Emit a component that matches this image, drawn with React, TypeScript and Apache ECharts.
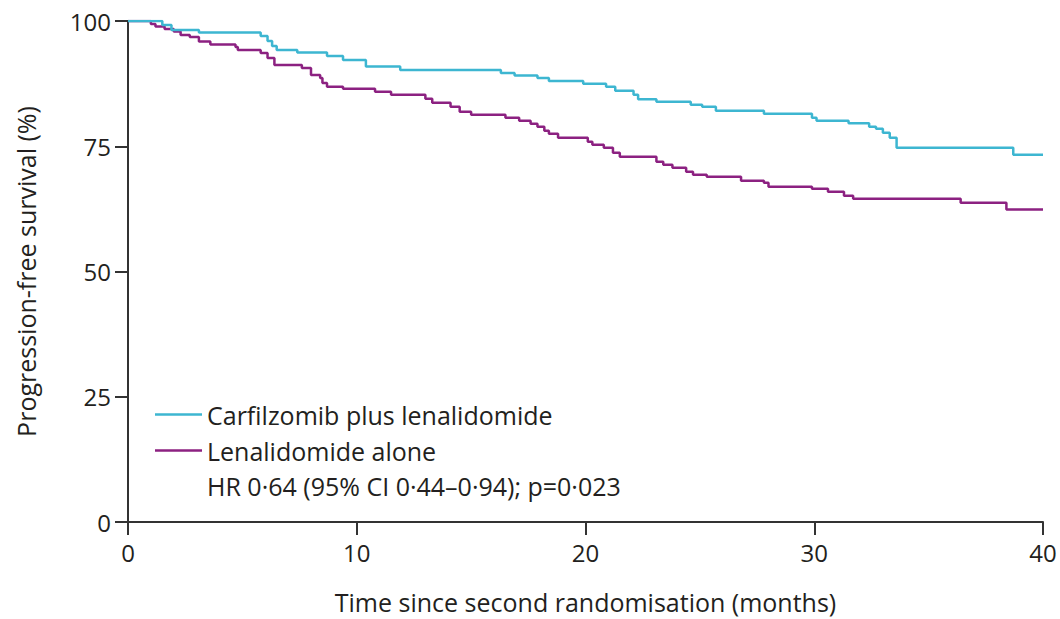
import React, { useEffect, useRef } from "react";
import * as echarts from "echarts";

const carfilzomibTimes = [0, 1.5, 1.9, 3.1, 5.8, 6.1, 6.3, 6.5, 7.4, 8.7, 9.4, 10.4, 11.9, 16.3, 16.9, 17.9, 18.4, 19.9, 20.9, 21.3, 22.1, 22.3, 23.1, 24.6, 25.1, 25.7, 27.8, 29.9, 30.1, 31.5, 32.4, 32.7, 33.0, 33.3, 33.6, 38.7, 40];
const carfilzomibSurvival = [100, 99.2, 98.2, 97.7, 97.0, 96.0, 95.0, 94.2, 93.7, 93.0, 92.2, 90.9, 90.2, 89.6, 89.1, 88.6, 88.0, 87.5, 86.9, 86.1, 85.3, 84.4, 83.9, 83.3, 82.9, 82.1, 81.5, 80.7, 80.1, 79.6, 78.9, 78.5, 77.7, 76.7, 74.7, 73.3, 73.3];

const lenalidomideTimes = [0, 1.0, 1.2, 1.6, 2.0, 2.3, 2.7, 3.1, 3.6, 4.7, 4.8, 5.8, 6.1, 6.4, 7.6, 8.0, 8.4, 8.5, 8.7, 9.4, 10.8, 11.5, 13.0, 13.3, 14.1, 14.5, 15.0, 16.5, 17.1, 17.6, 17.9, 18.2, 18.4, 18.8, 20.1, 20.3, 20.8, 21.2, 21.5, 23.1, 23.4, 23.8, 24.4, 24.7, 25.3, 26.8, 27.8, 28.0, 29.9, 30.6, 31.3, 31.7, 36.4, 38.4, 40];
const lenalidomideSurvival = [100, 99.4, 98.9, 98.4, 97.9, 97.2, 96.8, 95.9, 95.3, 94.8, 94.2, 93.6, 92.6, 91.2, 90.6, 89.2, 88.6, 87.6, 86.9, 86.5, 85.9, 85.3, 84.5, 83.7, 82.9, 81.9, 81.3, 80.7, 80.1, 79.5, 78.9, 78.1, 77.5, 76.7, 75.9, 75.3, 74.7, 73.7, 72.9, 71.9, 71.3, 70.7, 69.9, 69.3, 68.9, 68.1, 67.7, 66.9, 66.5, 65.9, 65.1, 64.5, 63.7, 62.4, 62.4];

const seriesNames = ["Carfilzomib plus lenalidomide", "Lenalidomide alone"];
const statsText = "HR 0·64 (95% CI 0·44–0·94); p=0·023";
const xTicks = [0, 10, 20, 30, 40];
const yTicks = [0, 25, 50, 75, 100];

const CYAN = "#3db6d1";
const PURPLE = "#8c2181";
const TEXT = "#231f20";
const AXIS = "#333333";
const FONT = "Open Sans";
const FS = 25;
const TICK_FS = 24;

export default function App() {
  const ref = useRef<HTMLDivElement>(null);
  useEffect(() => {
    if (!ref.current) return;
    const chart = echarts.init(ref.current, undefined, { renderer: "svg" });
    const zip = (a: number[], b: number[]) => a.map((t, i) => [t, b[i]]);
    chart.setOption({
      animation: false,
      textStyle: { fontFamily: FONT, color: TEXT },
      grid: { left: 128, right: 17, top: 21, bottom: 96, containLabel: false },
      legend: {
        orient: "vertical",
        left: 155,
        top: 402,
        padding: 0,
        itemWidth: 47,
        itemHeight: 2.5,
        itemGap: 11,
        icon: "rect",
        textStyle: { fontFamily: FONT, fontSize: FS, lineHeight: 25, color: TEXT },
        data: seriesNames,
      },
      graphic: [
        {
          type: "text",
          left: 207,
          top: 473,
          style: { text: statsText, fontFamily: FONT, fontSize: FS, lineHeight: 25, fill: TEXT },
        },
      ],
      xAxis: {
        type: "value",
        min: xTicks[0],
        max: xTicks[xTicks.length - 1],
        interval: 10,
        name: "Time since second randomisation (months)",
        nameLocation: "middle",
        nameGap: 67,
        nameTextStyle: { fontFamily: FONT, fontSize: FS, color: TEXT },
        axisLine: { lineStyle: { color: AXIS, width: 2 } },
        axisTick: { inside: false, length: 13, lineStyle: { color: AXIS, width: 2 } },
        axisLabel: { fontFamily: FONT, fontSize: TICK_FS, color: TEXT, margin: 18 },
        splitLine: { show: false },
      },
      yAxis: {
        type: "value",
        min: yTicks[0],
        max: yTicks[yTicks.length - 1],
        interval: 25,
        name: "Progression-free survival (%)",
        nameLocation: "middle",
        nameGap: 90,
        nameRotate: 90,
        nameTextStyle: { fontFamily: FONT, fontSize: FS, color: TEXT },
        axisLine: { show: true, lineStyle: { color: AXIS, width: 2 } },
        axisTick: { show: true, inside: false, length: 13, lineStyle: { color: AXIS, width: 2 } },
        axisLabel: { fontFamily: FONT, fontSize: TICK_FS, color: TEXT, margin: 17 },
        splitLine: { show: false },
      },
      series: [
        {
          name: seriesNames[0],
          type: "line",
          step: "end",
          symbol: "none",
          lineStyle: { color: CYAN, width: 2.5 },
          itemStyle: { color: CYAN },
          data: zip(carfilzomibTimes, carfilzomibSurvival),
          z: 3,
        },
        {
          name: seriesNames[1],
          type: "line",
          step: "end",
          symbol: "none",
          lineStyle: { color: PURPLE, width: 2.5 },
          itemStyle: { color: PURPLE },
          data: zip(lenalidomideTimes, lenalidomideSurvival),
          z: 2,
        },
      ],
    });
    return () => chart.dispose();
  }, []);
  return <div ref={ref} style={{ width: 1060, height: 619, position: "absolute", left: 0, top: 0 }} />;
}
